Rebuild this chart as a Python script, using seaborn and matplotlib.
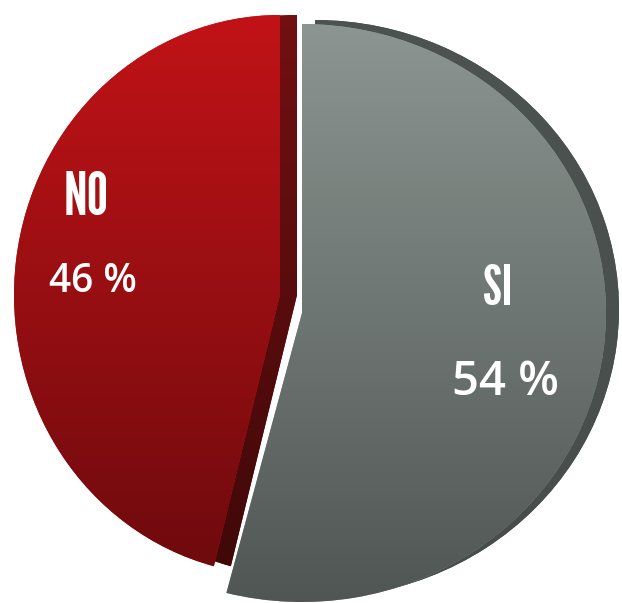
import numpy as np
import matplotlib
matplotlib.use("Agg")
import matplotlib.pyplot as plt
from matplotlib.transforms import Affine2D
import seaborn as sns

# ---- data ----
categories = ["SI", "NO"]
values = [54, 46]
pct_labels = [f"{v} %" for v in values]

# ---- style ----
face_top = ["#8d9692", "#c31317"]
face_bottom = ["#4f5553", "#6c0a0d"]
side_top = ["#4d5351", "#731012"]
side_bottom = ["#474d4b", "#3f0808"]

sns.set_theme(style="white")
W, H = 622, 603
fig = plt.figure(figsize=(W / 100, H / 100), dpi=100)
ax = fig.add_axes([0, 0, 1, 1])

# ellipse geometry per slice (pixel layout): centre x, centre y, rx, ry
face_geom = [(302, 313, 304, 289), (280, 295, 266, 280)]
side_shift = [(13, -4), (17, 0)]


def place(wedge, cx, cy, rx, ry):
    wedge.set_transform(Affine2D().scale(rx, ry).translate(cx, H - cy) + ax.transData)


def gradient(wedge, top, bottom, cx, cy, rx, ry, z):
    cmap = sns.blend_palette([bottom, top], n_colors=256, as_cmap=True)
    grad = np.linspace(0, 1, 256).reshape(-1, 1)
    im = ax.imshow(grad, cmap=cmap, aspect="auto", origin="lower",
                   extent=(cx - rx - 30, cx + rx + 30, H - cy - ry - 10, H - cy + ry + 10),
                   zorder=z, interpolation="bicubic")
    im.set_clip_path(wedge)


# side / rim layer (drawn first, beneath)
side_wedges, _ = ax.pie(values, startangle=90, counterclock=False,
                        colors=side_top, radius=1, center=(0, 0),
                        wedgeprops=dict(linewidth=0))
for i, w in enumerate(side_wedges):
    cx, cy, rx, ry = face_geom[i]
    dx, dy = side_shift[i]
    place(w, cx + dx, cy + dy, rx, ry)
    w.set_zorder(1)
    gradient(w, side_top[i], side_bottom[i], cx + dx, cy + dy, rx, ry, 1.5)

# top faces
face_wedges, _ = ax.pie(values, startangle=90, counterclock=False,
                        colors=face_top, radius=1, center=(0, 0),
                        wedgeprops=dict(linewidth=0))
for i, w in enumerate(face_wedges):
    cx, cy, rx, ry = face_geom[i]
    place(w, cx, cy, rx, ry)
    w.set_zorder(2)
    gradient(w, face_top[i], face_bottom[i], cx, cy, rx, ry, 2.5)

# labels
name_pos = [(498, 305), (86, 215)]
pct_pos = [(505, 395), (93, 292)]
name_size = [40, 43]
pct_size = [34, 28]
for i in range(len(categories)):
    x, y = name_pos[i]
    ax.text(x, H - y, categories[i], ha="center", va="baseline", color="white",
            fontsize=name_size[i],
            family=["League Gothic", "DejaVu Sans"], zorder=5)
    x, y = pct_pos[i]
    ax.text(x, H - y, pct_labels[i], ha="center", va="baseline", color="white",
            fontsize=pct_size[i], fontweight="semibold",
            family=["Open Sans", "DejaVu Sans"], zorder=5)

ax.set_xlim(0, W)
ax.set_ylim(0, H)
ax.set_aspect("auto")
ax.axis("off")
fig.savefig("out.png", dpi=100, facecolor="white")
